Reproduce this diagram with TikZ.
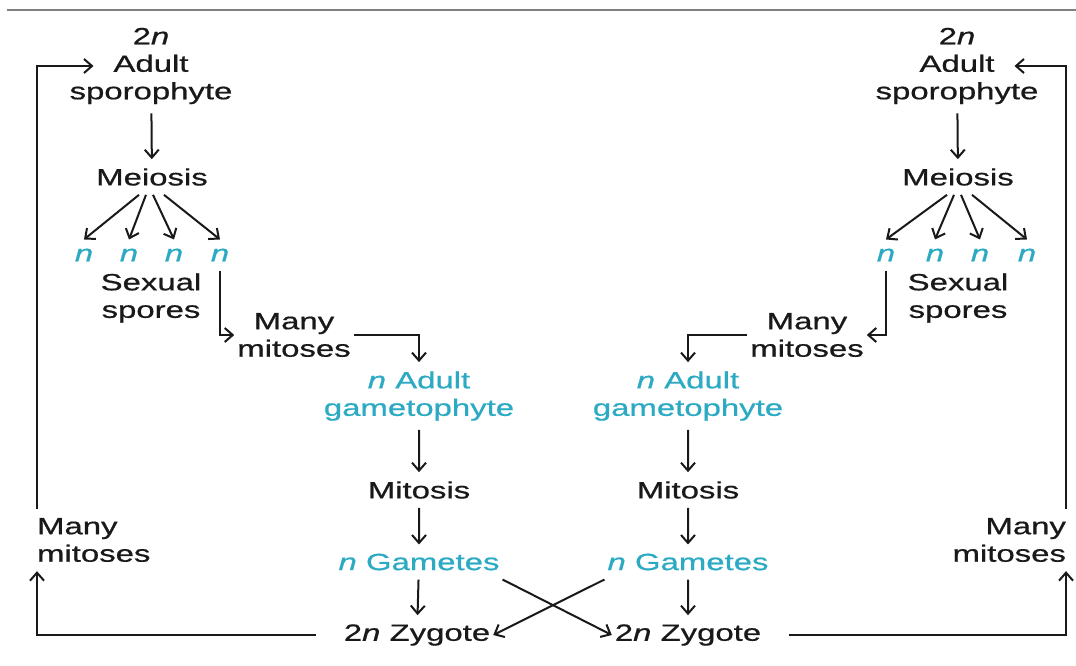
\documentclass[tikz,border=0pt]{standalone}
\usepackage{fontspec}
\setmainfont{Liberation Sans}
\usetikzlibrary{arrows.meta}
\definecolor{haploid}{RGB}{45,170,195}
\definecolor{ink}{RGB}{25,25,25}

\begin{document}
\begin{tikzpicture}[x=1pt, y=-1pt,
  txt/.style={font=\fontsize{23.5}{27.5}\selectfont\addfontfeature{FakeBold=0.6}, xscale=1.4,
    align=center, inner xsep=2pt, inner ysep=9pt, text=ink},
  hap/.style={txt, text=haploid},
  flow/.style={draw=ink, line width=2pt, -{Straight Barb[length=8pt,width=14pt]}}]
	\useasboundingbox (0,0) rectangle (1076,666);
	\draw[gray, line width=2pt] (7,10) -- (1076,10);
	% left cycle
	\node[txt] (sporoL) at (151,66) {2\textit{n}\\Adult\\sporophyte};
	\node[txt] (meioL) at (152,177) {Meiosis};
	\node[hap] (nL1) at (84,255) {\textit{n}};
	\node[hap] (nL2) at (129,255) {\textit{n}};
	\node[hap] (nL3) at (174,255) {\textit{n}};
	\node[hap] (nL4) at (220,255) {\textit{n}};
	\node[txt] (sporesL) at (151,298) {Sexual\\spores};
	\node[txt] (mitsL) at (294,335) {Many\\mitoses};
	\node[hap] (gamL) at (419,396) {\textit{n} Adult\\gametophyte};
	\node[txt] (mitoL) at (419,490) {Mitosis};
	\node[hap] (gamtL) at (419,562) {\textit{n} Gametes};
	\node[txt] (zygL) at (417,635) {2\textit{n} Zygote};
	\node[txt, anchor=west, align=left] (manyL) at (34,540) {Many\\mitoses};
	% right cycle
	\node[txt] (sporoR) at (957,66) {2\textit{n}\\Adult\\sporophyte};
	\node[txt] (meioR) at (958,177) {Meiosis};
	\node[hap] (nR1) at (886,255) {\textit{n}};
	\node[hap] (nR2) at (935,255) {\textit{n}};
	\node[hap] (nR3) at (980,255) {\textit{n}};
	\node[hap] (nR4) at (1027,255) {\textit{n}};
	\node[txt] (sporesR) at (958,298) {Sexual\\spores};
	\node[txt] (mitsR) at (807,335) {Many\\mitoses};
	\node[hap] (gamR) at (688,396) {\textit{n} Adult\\gametophyte};
	\node[txt] (mitoR) at (688,490) {Mitosis};
	\node[hap] (gamtR) at (688,562) {\textit{n} Gametes};
	\node[txt] (zygR) at (688,635) {2\textit{n} Zygote};
	\node[txt, anchor=east, align=right] (manyR) at (1069,540) {Many\\mitoses};

	\draw[flow] (sporoL) -- (meioL);
	\draw[flow] ([xshift=-13pt]meioL.south) -- (nL1.north);
	\draw[flow] ([xshift=-6pt]meioL.south) -- (nL2.north);
	\draw[flow] ([xshift=1pt]meioL.south) -- (nL3.north);
	\draw[flow] ([xshift=12pt]meioL.south) -- (nL4.north);
	\draw[flow] (nL4.south) |- (mitsL.west);
	\draw[flow] (mitsL.east) -| (gamL.north);
	\draw[flow] (gamL) -- (mitoL);
	\draw[flow] (mitoL) -- (gamtL);
	\draw[flow] (gamtL) -- (zygL);
	\draw[flow] ([xshift=-25pt]zygL.west) -| ([xshift=3pt]manyL.south west);
	\draw[flow] ([xshift=3pt]manyL.north west) |- ([xshift=27pt]sporoL.west);

	\draw[flow] (sporoR) -- (meioR);
	\draw[flow] ([xshift=-11pt]meioR.south) -- (nR1.north);
	\draw[flow] ([xshift=-4pt]meioR.south) -- (nR2.north);
	\draw[flow] ([xshift=3pt]meioR.south) -- (nR3.north);
	\draw[flow] ([xshift=14pt]meioR.south) -- (nR4.north);
	\draw[flow] (nR1.south) |- (mitsR.east);
	\draw[flow] (mitsR.west) -| (gamR.north);
	\draw[flow] (gamR) -- (mitoR);
	\draw[flow] (mitoR) -- (gamtR);
	\draw[flow] (gamtR) -- (zygR);
	\draw[flow] ([xshift=25pt]zygR.east) -| ([xshift=-3pt]manyR.south east);
	\draw[flow] ([xshift=-3pt]manyR.north east) |- ([xshift=-27pt]sporoR.east);

	% fertilisation crosses over
	\draw[flow] (gamtL.south east) -- (zygR.west);
	\draw[flow] (gamtR.south west) -- (zygL.east);
\end{tikzpicture}
\end{document}
